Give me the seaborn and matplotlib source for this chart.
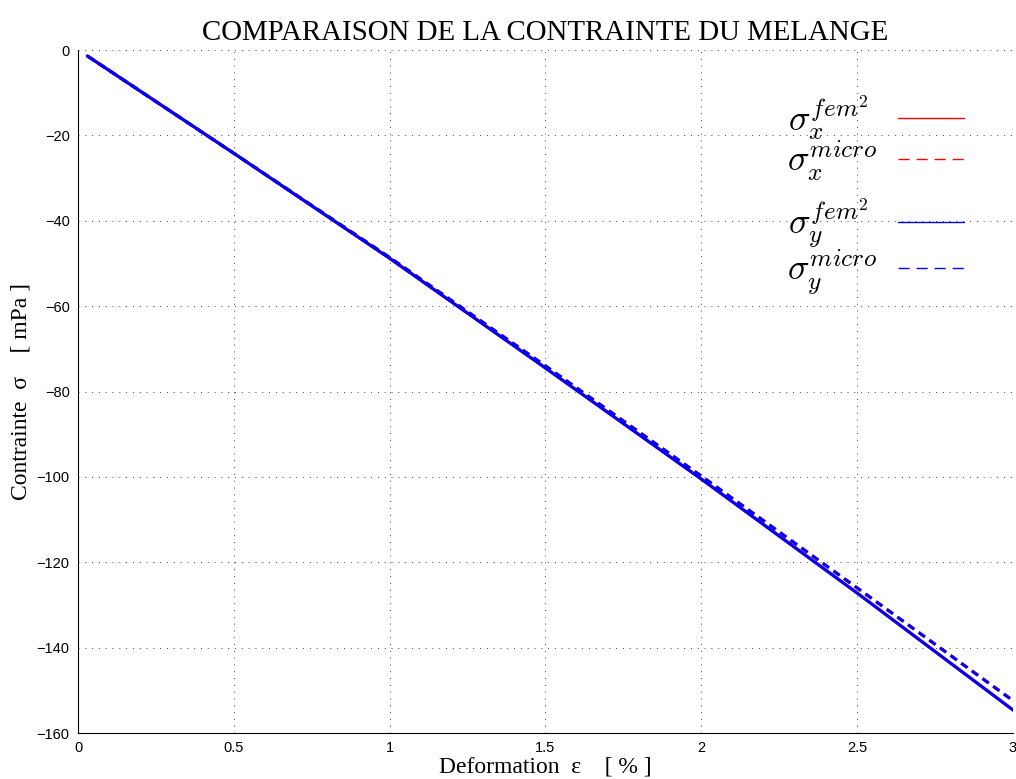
import pandas as pd
import matplotlib
matplotlib.use("Agg")
import matplotlib.pyplot as plt
import seaborn as sns

# Donnees (deformation en %, contrainte en mPa)
deformation = [0.03, 0.5, 1.0, 1.5, 2.0, 2.5, 3.0]
sigma_x_fem = [-1.4, -24.2, -48.8, -74.5, -100.5, -127.2, -154.6]
sigma_x_micro = [-1.4, -24.2, -48.6, -74.0, -99.8, -126.0, -152.4]
sigma_y_fem = [-1.4, -24.2, -48.8, -74.5, -100.5, -127.2, -154.6]
sigma_y_micro = [-1.4, -24.2, -48.6, -74.0, -99.8, -126.0, -152.4]

x_ticks = [0, 0.5, 1, 1.5, 2, 2.5, 3]
x_ticklabels = ['0', '0.5', '1', '1.5', '2', '2.5', '3']
y_ticks = [0, -20, -40, -60, -80, -100, -120, -140, -160]

sns.set_theme(style="white")
plt.rcParams['font.family'] = ['Liberation Sans', 'DejaVu Sans']
plt.rcParams['mathtext.fontset'] = 'cm'
plt.rcParams['text.color'] = 'black'
plt.rcParams['axes.labelcolor'] = 'black'

df = pd.DataFrame({
    'deformation': deformation,
    'sx_fem': sigma_x_fem,
    'sx_micro': sigma_x_micro,
    'sy_fem': sigma_y_fem,
    'sy_micro': sigma_y_micro,
})

fig = plt.figure(figsize=(10.16, 7.79), dpi=100)
ax = fig.add_axes([0.0768, 0.059, 0.9202, 0.8768])

lw = 2.2
sns.lineplot(data=df, x='deformation', y='sx_fem', ax=ax, color='red', lw=lw)
sns.lineplot(data=df, x='deformation', y='sx_micro', ax=ax, color='red', lw=lw)
sns.lineplot(data=df, x='deformation', y='sy_fem', ax=ax, color='blue', lw=lw)
sns.lineplot(data=df, x='deformation', y='sy_micro', ax=ax, color='blue', lw=lw)
for i in (1, 3):
    ax.lines[i].set_linestyle((0, (2.5, 1.8)))

ax.set_xlim(0, 3)
ax.set_ylim(-160, 0)
ax.set_xticks(x_ticks)
ax.set_xticklabels(x_ticklabels)
ax.set_yticks(y_ticks)
ax.tick_params(direction='in', length=5, width=0.8, labelsize=10.5, colors='black',
               pad=6)
ax.grid(True, linestyle=(0, (1, 6)), color='#444444', linewidth=0.7)
for s in ('top', 'right'):
    ax.spines[s].set_visible(False)
for s in ('left', 'bottom'):
    ax.spines[s].set_color('black')
    ax.spines[s].set_linewidth(0.8)

serif = ['Liberation Serif', 'DejaVu Serif']
ax.set_title('COMPARAISON DE LA CONTRAINTE DU MELANGE', family=serif, fontsize=20.8,
             pad=7, color='black')
ax.set_xlabel('Deformation  \u03b5    [ % ]', family=serif, fontsize=17, labelpad=1)
ax.set_ylabel('Contrainte  \u03c3    [ mPa ]', family=serif, fontsize=17, labelpad=4)

# legende en deux groupes (x puis y), texte a gauche, trait a droite
labels = [r'$\sigma_x^{fem^2}$', r'$\sigma_x^{micro}$',
          r'$\sigma_y^{fem^2}$', r'$\sigma_y^{micro}$']
leg_kw = dict(loc='upper right', frameon=False, markerfirst=False, fontsize=26,
              handlelength=1.85, handletextpad=0.58, labelspacing=-0.1,
              borderpad=0, borderaxespad=0)
leg1 = ax.legend(ax.lines[0:2], labels[0:2], bbox_to_anchor=(0.948, 0.937), **leg_kw)
ax.add_artist(leg1)
leg2 = ax.legend(ax.lines[2:4], labels[2:4], bbox_to_anchor=(0.948, 0.785), **leg_kw)
for leg in (leg1, leg2):
    for h in leg.legend_handles:
        h.set_linewidth(1.0)
    leg.legend_handles[1].set_linestyle((0, (8, 5)))
    # aligner les sigma a gauche : elargir l'ecart de la ligne fem^2
    row = leg._legend_handle_box.get_children()[0].get_children()[0]
    row.sep += 5.8

fig.savefig('out.png', dpi=100)
